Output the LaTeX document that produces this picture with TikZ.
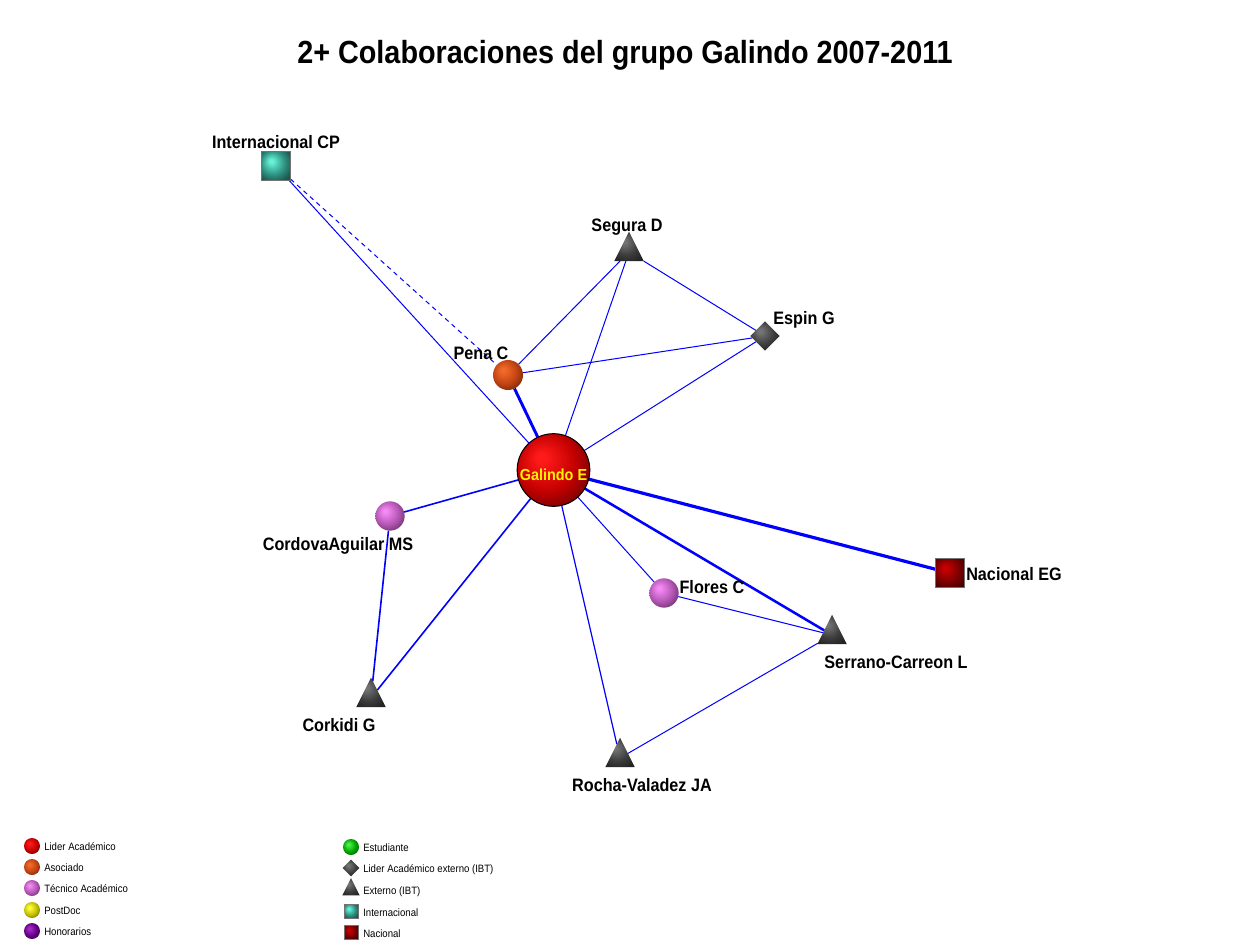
\documentclass[tikz,border=0pt]{standalone}
\usepackage{fontspec}
\setmainfont{Liberation Sans}
\newfontfamily\nf[FakeStretch=0.9]{Liberation Sans}
\usetikzlibrary{shapes.geometric,backgrounds}
\colorlet{hicol}{red}\colorlet{locol}{red}
\pgfdeclareradialshading[hicol,locol]{sph}{\pgfqpoint{-9bp}{9bp}}{color(0bp)=(hicol); color(3bp)=(hicol); color(20bp)=(locol); color(32bp)=(locol!60!black); color(50bp)=(locol!45!black)}
\definecolor{galhi}{HTML}{FF1A1A}\definecolor{gallo}{HTML}{C40000}
\definecolor{penhi}{HTML}{F26A2A}\definecolor{penlo}{HTML}{C24412}
\definecolor{techi}{HTML}{F48AF4}\definecolor{teclo}{HTML}{B456B4}
\definecolor{poshi}{HTML}{FFFF40}\definecolor{poslo}{HTML}{C4C000}
\definecolor{honhi}{HTML}{A62AC8}\definecolor{honlo}{HTML}{640084}
\definecolor{esthi}{HTML}{4AF04A}\definecolor{estlo}{HTML}{00A400}
\definecolor{gryhi}{HTML}{747474}\definecolor{grylo}{HTML}{3C3C3C}
\definecolor{inthi}{HTML}{66F2D6}\definecolor{intlo}{HTML}{2E9282}
\definecolor{nachi}{HTML}{C80000}\definecolor{naclo}{HTML}{7E0000}
\definecolor{edgeblue}{HTML}{0000FF}
\tikzset{
  sph/.style 2 args={shading=sph, /utils/exec={\colorlet{hicol}{#1}\colorlet{locol}{#2}}, inner sep=0pt, outer sep=0pt},
  ballnode/.style={circle, minimum size=#1},
  sqnode/.style={rectangle, minimum size=#1, draw=black!55, line width=0.5pt},
  trinode/.style={isosceles triangle, shape border rotate=90, isosceles triangle stretches, minimum width=#1, minimum height=#1},
  dianode/.style={diamond, minimum width=#1, minimum height=#1},
  lbl/.style={font=\nf\bfseries\fontsize{13.5}{14}\selectfont, inner sep=0pt, anchor=base},
  leg/.style={font=\nf\fontsize{8}{9}\selectfont, inner sep=0pt, anchor=base west},
  thin/.style={draw=edgeblue, line width=0.75pt},
  med/.style={draw=edgeblue, line width=1.2pt},
  thick/.style={draw=edgeblue, line width=2.2pt},
}
\begin{document}
\begin{tikzpicture}[x=0.75pt,y=-0.75pt]
\useasboundingbox (0,0) rectangle (1250,950);
\node[font=\nf\bfseries\fontsize{24}{26}\selectfont, inner sep=0pt, anchor=base] (title) at (625,63) {2+ Colaboraciones del grupo Galindo 2007-2011};

% nodes
\node[ballnode=54.5pt, sph={galhi}{gallo}, draw=black, line width=0.75pt] (gal) at (553.5,470) {};
\node[ballnode=22.5pt, sph={penhi}{penlo}] (pena) at (508,375) {};
\node[sqnode=22pt, sph={inthi}{intlo}] (icp) at (276,166) {};
\node[trinode=22pt, sph={gryhi}{grylo}] (seg) at (629,252) {};
\node[dianode=22pt, sph={gryhi}{grylo}] (esp) at (765,336) {};
\node[ballnode=22pt, sph={techi}{teclo}] (cord) at (390,516) {};
\node[trinode=22pt, sph={gryhi}{grylo}] (cork) at (371,698) {};
\node[trinode=22pt, sph={gryhi}{grylo}] (rocha) at (620,758) {};
\node[ballnode=22pt, sph={techi}{teclo}] (flo) at (664,593) {};
\node[trinode=22pt, sph={gryhi}{grylo}] (serr) at (832,635) {};
\node[sqnode=22pt, sph={nachi}{naclo}] (nac) at (950,573) {};

% edges
\begin{pgfonlayer}{background}
\fill[white] (0,0) rectangle (1250,950);
\draw[thin] (gal) -- (icp);
\draw[thin, dash pattern=on 3.5pt off 3pt] (icp) -- (pena);
\draw[thick] (gal) -- (pena);
\draw[thin] (gal) -- (seg);
\draw[thin] (gal) -- (esp);
\draw[thin] (pena) -- (seg);
\draw[thin] (pena) -- (esp);
\draw[thin] (seg) -- (esp);
\draw[thick, line width=2.4pt] (gal) -- (nac);
\draw[thick, line width=1.9pt] (gal) -- (serr);
\draw[thin] (gal) -- (flo);
\draw[thin, line width=0.9pt] (gal) -- (rocha);
\draw[med] (gal) -- (cork);
\draw[med] (gal) -- (cord);
\draw[med] (cord) -- (cork);
\draw[thin] (flo) -- (serr);
\draw[thin] (rocha) -- (serr);
\end{pgfonlayer}

% labels
\node[lbl, text=yellow, font=\nf\bfseries\fontsize{12}{13}\selectfont] (galtxt) at (553.5,480) {Galindo E};
\node[lbl] (l-icp) at (276,148) {Internacional CP};
\node[lbl] (l-seg) at (627,231) {Segura D};
\node[lbl] (l-esp) at (804,324) {Espin G};
\node[lbl] (l-pena) at (481,359) {Pena C};
\node[lbl] (l-cord) at (338,550) {CordovaAguilar MS};
\node[lbl] (l-flo) at (712,593) {Flores C};
\node[lbl] (l-nac) at (1014,580) {Nacional EG};
\node[lbl] (l-serr) at (896,668) {Serrano-Carreon L};
\node[lbl] (l-cork) at (339,731) {Corkidi G};
\node[lbl] (l-rocha) at (642,791) {Rocha-Valadez JA};

% legend
\node[ballnode=12pt, sph={galhi}{gallo}] (k1) at (32,846) {};
\node[ballnode=12pt, sph={penhi}{penlo}] (k2) at (32,867) {};
\node[ballnode=12pt, sph={techi}{teclo}] (k3) at (32,888) {};
\node[ballnode=12pt, sph={poshi}{poslo}] (k4) at (32,910) {};
\node[ballnode=12pt, sph={honhi}{honlo}] (k5) at (32,931) {};
\node[leg] (t1) at (44,850) {Lider Académico};
\node[leg] (t2) at (44,871) {Asociado};
\node[leg] (t3) at (44,892) {Técnico Académico};
\node[leg] (t4) at (44,914) {PostDoc};
\node[leg] (t5) at (44,935) {Honorarios};
\node[ballnode=12pt, sph={esthi}{estlo}] (k6) at (351,847) {};
\node[dianode=12.5pt, sph={gryhi}{grylo}] (k7) at (351,868) {};
\node[trinode=13pt, sph={gryhi}{grylo}] (k8) at (351,890) {};
\node[sqnode=10.5pt, sph={inthi}{intlo}] (k9) at (351,911) {};
\node[sqnode=10.5pt, sph={nachi}{naclo}] (k10) at (351,932) {};
\node[leg] (t6) at (363,851) {Estudiante};
\node[leg] (t7) at (363,872) {Lider Académico externo (IBT)};
\node[leg] (t8) at (363,894) {Externo (IBT)};
\node[leg] (t9) at (363,916) {Internacional};
\node[leg] (t10) at (363,937) {Nacional};
\end{tikzpicture}
\end{document}
